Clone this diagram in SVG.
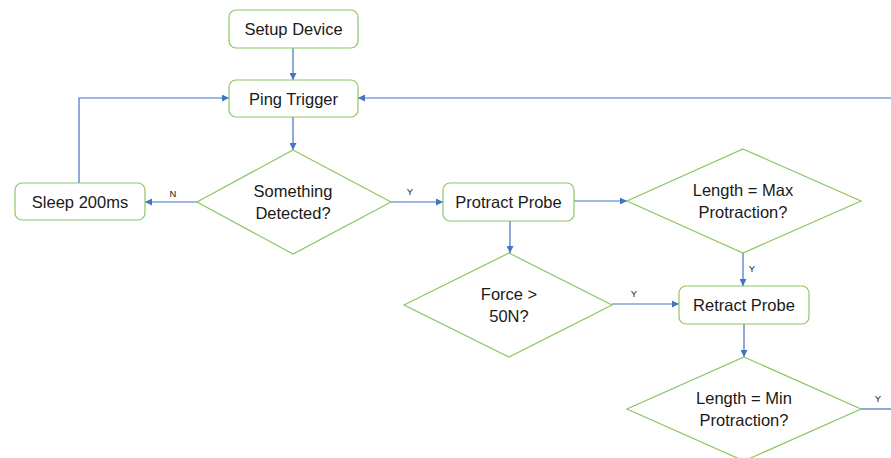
<svg xmlns="http://www.w3.org/2000/svg" width="891" height="458" viewBox="0 0 891 458">
<style>
.box{fill:#fff;stroke:#8cc665;stroke-width:1.2}
.t{font-family:"Liberation Sans",Arial,sans-serif;font-size:16.5px;fill:#1a1a1a;text-anchor:middle}
.c{fill:none;stroke:#4472c4;stroke-width:1.2}
.l{font-family:"Liberation Sans",Arial,sans-serif;font-size:9.5px;fill:#1a1a1a;text-anchor:middle}
</style>
<defs>
<marker id="a" viewBox="0 0 8 8" refX="8" refY="4" markerWidth="7" markerHeight="7" markerUnits="userSpaceOnUse" orient="auto">
<path d="M0,0 L8,4 L0,8 Z" fill="#4472c4"/>
</marker>
</defs>
<rect width="891" height="458" fill="#fff"/>
<g id="connectors">
<path class="c" d="M293,48 V80" marker-end="url(#a)"/>
<path class="c" d="M293,117 V150" marker-end="url(#a)"/>
<path class="c" d="M197,202 H145" marker-end="url(#a)"/>
<path class="c" d="M79,183 V98 H229" marker-end="url(#a)"/>
<path class="c" d="M391,202 H443" marker-end="url(#a)"/>
<path class="c" d="M574,201 H627" marker-end="url(#a)"/>
<path class="c" d="M510,221 V253" marker-end="url(#a)"/>
<path class="c" d="M743,253 V286" marker-end="url(#a)"/>
<path class="c" d="M612,304 H679" marker-end="url(#a)"/>
<path class="c" d="M744,324 V357" marker-end="url(#a)"/>
<path class="c" d="M861,409 H891"/>
<path class="c" d="M891,98 H358" marker-end="url(#a)"/>
<text class="l" x="173" y="197">N</text>
<text class="l" x="410" y="195">Y</text>
<text class="l" x="752" y="272">Y</text>
<text class="l" x="634" y="297">Y</text>
<text class="l" x="878" y="402">Y</text>
</g>
<g id="setup">
<rect class="box" x="229" y="10" width="129" height="38" rx="7"/>
<text class="t" x="293.5" y="35">Setup Device</text>
</g>
<g id="ping">
<rect class="box" x="229" y="80" width="129" height="37" rx="7"/>
<text class="t" x="293.5" y="104.5">Ping Trigger</text>
</g>
<g id="detected">
<polygon class="box" points="293,150 391,202 293,254 197,202"/>
<text class="t" x="293" y="196.5">Something</text>
<text class="t" x="293" y="218.5">Detected?</text>
</g>
<g id="sleep">
<rect class="box" x="15" y="183" width="130" height="37" rx="7"/>
<text class="t" x="80" y="207.5">Sleep 200ms</text>
</g>
<g id="protract">
<rect class="box" x="443" y="183" width="131" height="38" rx="7"/>
<text class="t" x="508.5" y="207.5">Protract Probe</text>
</g>
<g id="maxlen">
<polygon class="box" points="743,149 861,201 743,253 627,201"/>
<text class="t" x="743" y="195.5">Length = Max</text>
<text class="t" x="743" y="217.5">Protraction?</text>
</g>
<g id="force">
<polygon class="box" points="509,253 612,305 509,357 404,305"/>
<text class="t" x="509" y="299.5">Force &gt;</text>
<text class="t" x="509" y="321.5">50N?</text>
</g>
<g id="retract">
<rect class="box" x="679" y="286" width="130" height="38" rx="7"/>
<text class="t" x="744" y="310.5">Retract Probe</text>
</g>
<g id="minlen">
<polygon class="box" points="744,357 861,409 744,461 627,409"/>
<text class="t" x="744" y="403.5">Length = Min</text>
<text class="t" x="744" y="425.5">Protraction?</text>
</g>
</svg>
